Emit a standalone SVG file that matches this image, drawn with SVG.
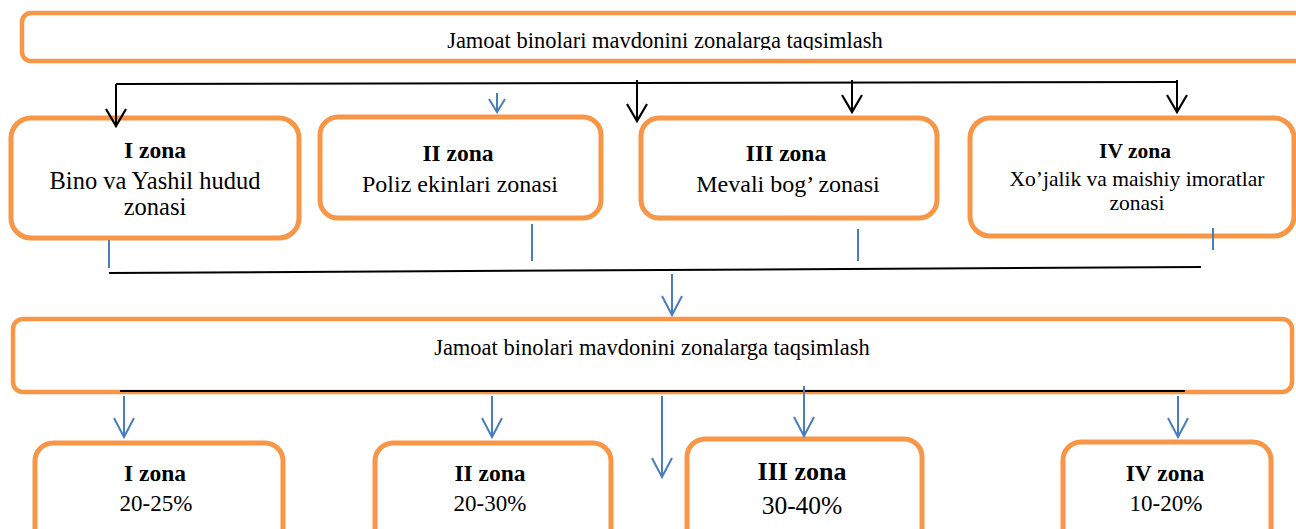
<svg xmlns="http://www.w3.org/2000/svg" width="1296" height="529" viewBox="0 0 1296 529">
<style>
.box{fill:#fff;stroke:#F79646;stroke-width:5}
.big{fill:#fff;stroke:#F79646;stroke-width:4.5}
.t{font-family:"Liberation Serif","Times New Roman",serif;fill:#000;text-anchor:middle}
.b{font-weight:bold}
.blk{stroke:#000;stroke-width:2;fill:none}
.blu{stroke:#4A7EBB;stroke-width:2;fill:none}
</style>
<defs>
<marker id="ak" markerUnits="userSpaceOnUse" markerWidth="40" markerHeight="40" refX="0" refY="0" orient="auto" overflow="visible" viewBox="-20 -20 40 40">
<path d="M-17,-10 L0,0 L-17,10" fill="none" stroke="#000" stroke-width="2.2"/>
</marker>
<marker id="ab" markerUnits="userSpaceOnUse" markerWidth="40" markerHeight="40" refX="0" refY="0" orient="auto" overflow="visible" viewBox="-20 -20 40 40">
<path d="M-19,-10 L0,0 L-19,10" fill="none" stroke="#4A7EBB" stroke-width="2"/>
</marker>
<marker id="abs" markerUnits="userSpaceOnUse" markerWidth="40" markerHeight="40" refX="0" refY="0" orient="auto" overflow="visible" viewBox="-20 -20 40 40">
<path d="M-13,-8 L0,0 L-13,8" fill="none" stroke="#4A7EBB" stroke-width="2"/>
</marker>
<clipPath id="clipTop"><rect x="0" y="0" width="1296" height="50"/></clipPath>
</defs>

<g id="top">
<rect class="big" x="22" y="13" width="1300" height="48" rx="9"/>
<text class="t" x="665" y="48" font-size="22.5" clip-path="url(#clipTop)">Jamoat binolari mavdonini zonalarga taqsimlash</text>
</g>

<g id="zone1">
<rect class="box" x="11" y="118" width="288" height="120" rx="20"/>
<text class="t b" x="155" y="158" font-size="23.5">I zona</text>
<text class="t" x="155" y="189" font-size="24.5">Bino va Yashil hudud</text>
<text class="t" x="155" y="215" font-size="24.5">zonasi</text>
</g>
<g id="zone2">
<rect class="box" x="320" y="117" width="281" height="101" rx="18"/>
<text class="t b" x="458" y="161" font-size="23.5">II zona</text>
<text class="t" x="460" y="192" font-size="24">Poliz ekinlari zonasi</text>
</g>
<g id="zone3">
<rect class="box" x="641" y="118" width="296" height="100" rx="18"/>
<text class="t b" x="786" y="161" font-size="23.5">III zona</text>
<text class="t" x="788" y="192" font-size="24">Mevali bog’ zonasi</text>
</g>
<g id="zone4">
<rect class="box" x="970" y="118" width="324" height="118" rx="20"/>
<text class="t b" x="1135" y="158" font-size="21.5">IV zona</text>
<text class="t" x="1137" y="186" font-size="21.5">Xo’jalik va maishiy imoratlar</text>
<text class="t" x="1137" y="210" font-size="21.5">zonasi</text>
</g>

<g id="middle">
<rect class="big" x="13" y="319" width="1279" height="73" rx="10"/>
<text class="t" x="652" y="355" font-size="22.5">Jamoat binolari mavdonini zonalarga taqsimlash</text>
</g>

<g id="pct1">
<rect class="box" x="35" y="443" width="248" height="110" rx="18"/>
<text class="t b" x="155" y="481" font-size="23.5">I zona</text>
<text class="t" x="156" y="511" font-size="23">20-25%</text>
</g>
<g id="pct2">
<rect class="box" x="375" y="443" width="236" height="110" rx="18"/>
<text class="t b" x="490" y="481" font-size="23.5">II zona</text>
<text class="t" x="490" y="511" font-size="23">20-30%</text>
</g>
<g id="pct3">
<rect class="box" x="687" y="439" width="235" height="110" rx="18"/>
<text class="t b" x="802" y="480" font-size="26">III zona</text>
<text class="t" x="802" y="514" font-size="25.5">30-40%</text>
</g>
<g id="pct4">
<rect class="box" x="1063" y="442" width="208" height="110" rx="18"/>
<text class="t b" x="1165" y="481" font-size="23.5">IV zona</text>
<text class="t" x="1166" y="511" font-size="23">10-20%</text>
</g>

<g id="connectors">
<line class="blk" x1="116" y1="84" x2="1177" y2="82"/>
<line class="blk" x1="116" y1="84" x2="116" y2="126" marker-end="url(#ak)"/>
<line class="blk" x1="637" y1="80" x2="637" y2="121" marker-end="url(#ak)"/>
<line class="blk" x1="852" y1="80" x2="852" y2="112" marker-end="url(#ak)"/>
<line class="blk" x1="1177" y1="80" x2="1177" y2="112" marker-end="url(#ak)"/>
<line class="blu" x1="497" y1="93" x2="497" y2="112" marker-end="url(#abs)"/>

<line class="blu" x1="109" y1="240" x2="109" y2="268"/>
<line class="blu" x1="532" y1="224" x2="532" y2="261"/>
<line class="blu" x1="858" y1="229" x2="858" y2="261"/>
<line class="blu" x1="1213" y1="228" x2="1213" y2="250"/>
<line class="blk" x1="109" y1="273" x2="1201" y2="267"/>
<line class="blu" x1="672" y1="274" x2="672" y2="315" marker-end="url(#ab)"/>

<line class="blk" x1="120" y1="391" x2="1185" y2="391" stroke-width="2.5"/>
<line class="blu" x1="124" y1="396" x2="124" y2="437" marker-end="url(#ab)"/>
<line class="blu" x1="492" y1="396" x2="492" y2="437" marker-end="url(#ab)"/>
<line class="blu" x1="662" y1="396" x2="662" y2="477" marker-end="url(#ab)"/>
<line class="blu" x1="804" y1="386" x2="804" y2="436" marker-end="url(#ab)"/>
<line class="blu" x1="1178" y1="396" x2="1178" y2="437" marker-end="url(#ab)"/>
</g>
</svg>
